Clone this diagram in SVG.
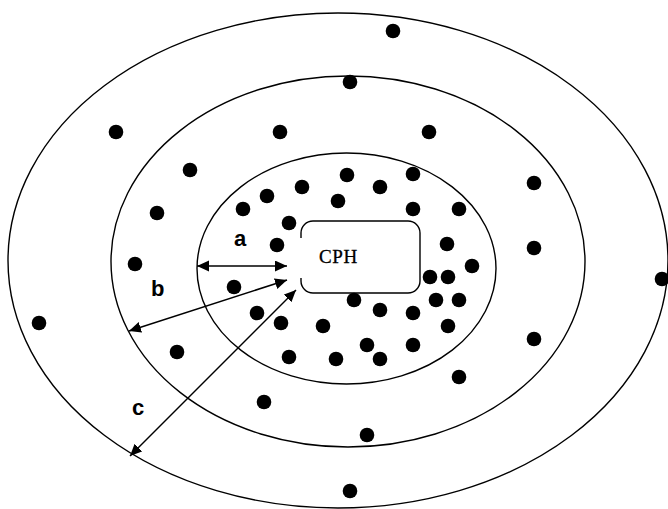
<svg xmlns="http://www.w3.org/2000/svg" width="668" height="509" viewBox="0 0 668 509">
<style>
.ring{fill:none;stroke:#000;stroke-width:1.4}
.dot{fill:#000}
.conn{fill:none;stroke:#000;stroke-width:1.5}
.lbl{font-family:"Liberation Sans",Arial,sans-serif;font-weight:bold;font-size:22px;fill:#000}
.cph{font-family:"Liberation Serif","Times New Roman",serif;font-size:19px;letter-spacing:0.6px;fill:#000;stroke:#000;stroke-width:0.3}
</style>
<defs>
<marker id="ah" markerUnits="userSpaceOnUse" markerWidth="13" markerHeight="12" refX="12" refY="5.5" orient="auto-start-reverse">
<path d="M0,0 L12,5.5 L0,11 z" fill="#000"/>
</marker>
</defs>
<rect width="668" height="509" fill="#fff"/>
<g id="rings">
<ellipse id="outer" class="ring" cx="338" cy="260.5" rx="330" ry="247.5"/>
<ellipse id="middle" class="ring" cx="348" cy="261.5" rx="237" ry="185.5"/>
<ellipse id="inner" class="ring" cx="346.5" cy="268.5" rx="149.5" ry="115.5"/>
</g>
<g id="cph">
<path class="ring" d="M301,238 V233 A12,12 0 0 1 313,221 H408 A12,12 0 0 1 420,233 V281 A12,12 0 0 1 408,293 H313 A12,12 0 0 1 301,281 V278"/>
<text class="cph" x="319" y="263">CPH</text>
</g>
<g id="dots" class="dot">
<circle cx="393" cy="31" r="7.3"/>
<circle cx="350" cy="82" r="7.3"/>
<circle cx="116" cy="132" r="7.3"/>
<circle cx="280" cy="132" r="7.3"/>
<circle cx="429" cy="132" r="7.3"/>
<circle cx="190" cy="170" r="7.3"/>
<circle cx="534" cy="183" r="7.3"/>
<circle cx="157" cy="213" r="7.3"/>
<circle cx="135" cy="264" r="7.3"/>
<circle cx="534" cy="248" r="7.3"/>
<circle cx="534" cy="339" r="7.3"/>
<circle cx="177" cy="352" r="7.3"/>
<circle cx="459" cy="377" r="7.3"/>
<circle cx="264" cy="402" r="7.3"/>
<circle cx="367" cy="435" r="7.3"/>
<circle cx="350" cy="491" r="7.3"/>
<circle cx="39" cy="323" r="7.3"/>
<circle cx="662" cy="279" r="7.3"/>
<circle cx="347" cy="175" r="7.3"/>
<circle cx="302" cy="187" r="7.3"/>
<circle cx="267" cy="196" r="7.3"/>
<circle cx="243" cy="209" r="7.3"/>
<circle cx="338" cy="201" r="7.3"/>
<circle cx="289" cy="223" r="7.3"/>
<circle cx="277" cy="245" r="7.3"/>
<circle cx="380" cy="187" r="7.3"/>
<circle cx="413" cy="174" r="7.3"/>
<circle cx="413" cy="209" r="7.3"/>
<circle cx="459" cy="209" r="7.3"/>
<circle cx="447" cy="244" r="7.3"/>
<circle cx="472" cy="266" r="7.3"/>
<circle cx="430" cy="277" r="7.3"/>
<circle cx="448" cy="277" r="7.3"/>
<circle cx="354" cy="300" r="7.3"/>
<circle cx="380" cy="310" r="7.3"/>
<circle cx="413" cy="313" r="7.3"/>
<circle cx="436" cy="300" r="7.3"/>
<circle cx="459" cy="300" r="7.3"/>
<circle cx="448" cy="326" r="7.3"/>
<circle cx="367" cy="345" r="7.3"/>
<circle cx="413" cy="345" r="7.3"/>
<circle cx="380" cy="359" r="7.3"/>
<circle cx="234" cy="287" r="7.3"/>
<circle cx="257" cy="313" r="7.3"/>
<circle cx="281" cy="323" r="7.3"/>
<circle cx="323" cy="326" r="7.3"/>
<circle cx="289" cy="357" r="7.3"/>
<circle cx="336" cy="359" r="7.3"/>
</g>
<g id="connectors">
<line id="arrow-a" class="conn" x1="197" y1="266" x2="287" y2="266" marker-start="url(#ah)" marker-end="url(#ah)"/>
<line id="arrow-b" class="conn" x1="129" y1="331" x2="287" y2="280" marker-start="url(#ah)" marker-end="url(#ah)"/>
<line id="arrow-c" class="conn" x1="130" y1="456" x2="296" y2="290" marker-start="url(#ah)" marker-end="url(#ah)"/>
</g>
<g id="labels">
<text class="lbl" x="234" y="246">a</text>
<text class="lbl" x="151" y="296">b</text>
<text class="lbl" x="132" y="415">c</text>
</g>
</svg>
